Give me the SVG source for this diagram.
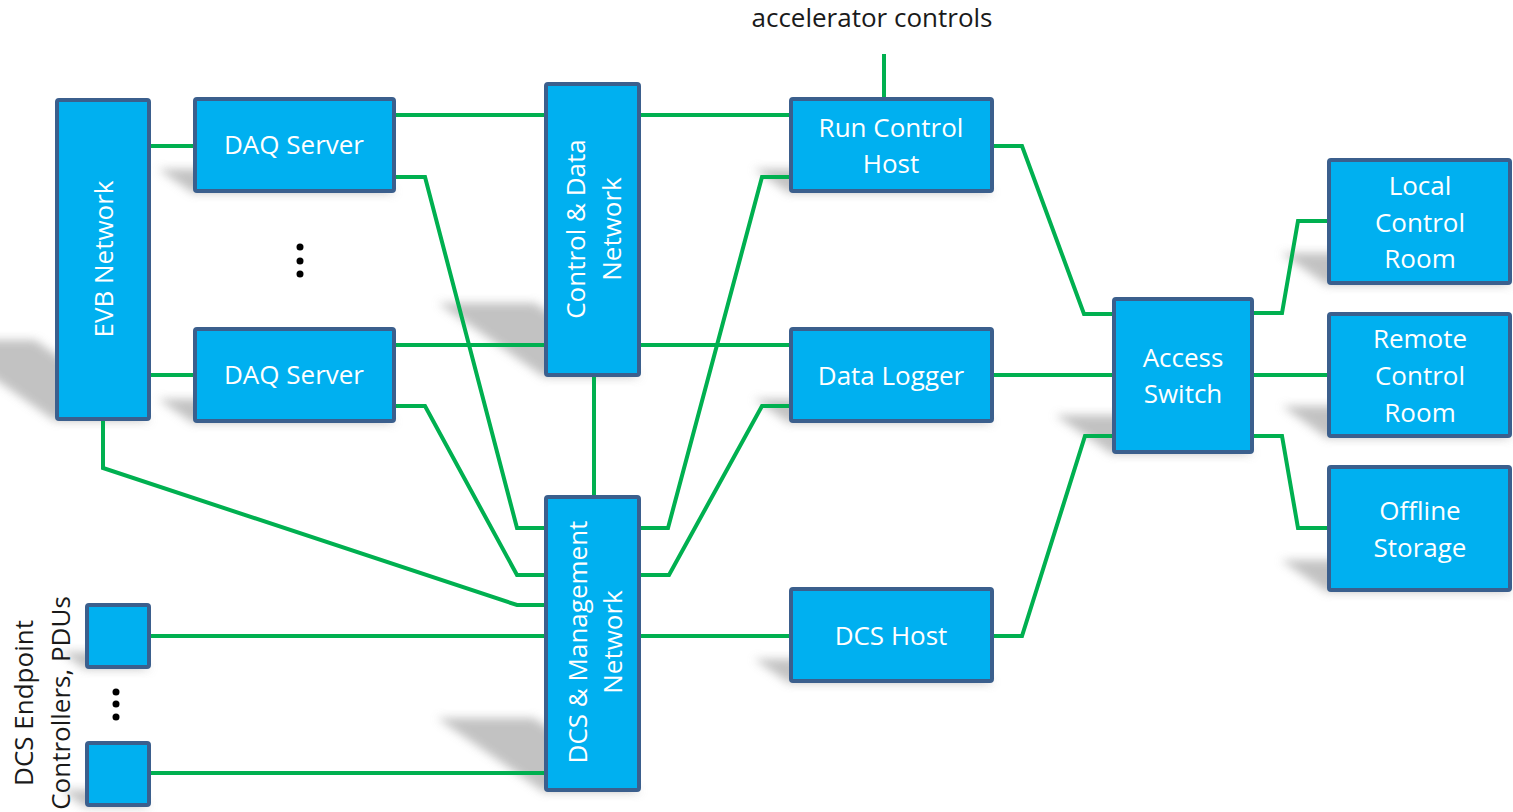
<svg xmlns="http://www.w3.org/2000/svg" width="1513" height="812" viewBox="0 0 1513 812">
<defs>
<filter id="blur" x="-50%" y="-50%" width="200%" height="200%"><feGaussianBlur stdDeviation="5"/></filter>
<style>
.box{fill:#00b0f0;stroke:#3b5f8d;stroke-width:4}
.lbl{font-family:"Open Sans","Liberation Sans",sans-serif;font-size:26px;fill:#ffffff;text-anchor:middle}
.ext{font-family:"Open Sans","Liberation Sans",sans-serif;font-size:26px;fill:#1a1a1a;text-anchor:middle}
.wire{fill:none;stroke:#00b050;stroke-width:4;stroke-linejoin:miter}
.shadow{fill:#b8b8b8;opacity:0.85;filter:url(#blur)}
.dot{fill:#000000}
</style>
</defs>
<rect width="1513" height="812" fill="#ffffff"/>
<g id="shadows">
<polygon class="shadow" points="55,421 151,421 35,340 -61,340"/>
<polygon class="shadow" points="193,193 396,193 361,169 158,169"/>
<polygon class="shadow" points="193,423 396,423 361,399 158,399"/>
<polygon class="shadow" points="544,377 641,377 535,303 438,303"/>
<polygon class="shadow" points="544,792 641,792 534,718 437,718"/>
<polygon class="shadow" points="789,193 994,193 959,169 754,169"/>
<polygon class="shadow" points="789,423 994,423 959,399 754,399"/>
<polygon class="shadow" points="789,683 994,683 959,659 754,659"/>
<polygon class="shadow" points="1112,454 1254,454 1197,415 1055,415"/>
<polygon class="shadow" points="1327,285 1513,285 1467,253 1281,253"/>
<polygon class="shadow" points="1327,438 1513,438 1468,406 1282,406"/>
<polygon class="shadow" points="1327,592 1513,592 1467,560 1281,560"/>
<polygon class="shadow" points="85,669 151,669 127,652 61,652"/>
<polygon class="shadow" points="85,807 151,807 127,790 61,790"/>
</g>
<g id="connectors">
<path class="wire" d="M150,146 H195"/>
<path class="wire" d="M150,375 H195"/>
<path class="wire" d="M394,115 H546"/>
<path class="wire" d="M394,177 H425 L517,528 H546"/>
<path class="wire" d="M394,345 H546"/>
<path class="wire" d="M394,406 H425 L517,575 H546"/>
<path class="wire" d="M103,421 V468 L517,605 H546"/>
<path class="wire" d="M594,377 V497"/>
<path class="wire" d="M639,115 H791"/>
<path class="wire" d="M639,345 H791"/>
<path class="wire" d="M639,528 H668 L762,177 H791"/>
<path class="wire" d="M639,575 H669 L762,406 H791"/>
<path class="wire" d="M149,636 H546"/>
<path class="wire" d="M149,773 H546"/>
<path class="wire" d="M639,636 H791"/>
<path class="wire" d="M884,54 V99"/>
<path class="wire" d="M992,146 H1022 L1084,314 H1114"/>
<path class="wire" d="M992,375 H1114"/>
<path class="wire" d="M992,636 H1022 L1085,436 H1114"/>
<path class="wire" d="M1252,313 H1282 L1298,221 H1329"/>
<path class="wire" d="M1252,375 H1329"/>
<path class="wire" d="M1252,436 H1282 L1298,528 H1329"/>
</g>
<g id="evb"><rect class="box" x="57" y="100" width="92" height="319" rx="2"/>
<text class="lbl" transform="translate(113,259) rotate(-90)">EVB Network</text></g>
<g id="daq1"><rect class="box" x="195" y="99" width="199" height="92" rx="2"/>
<text class="lbl" x="294" y="154">DAQ Server</text></g>
<g id="daq2"><rect class="box" x="195" y="329" width="199" height="92" rx="2"/>
<text class="lbl" x="294" y="384">DAQ Server</text></g>
<g id="daq-dots"><circle class="dot" cx="300" cy="247" r="3.5"/><circle class="dot" cx="300" cy="261" r="3.5"/><circle class="dot" cx="300" cy="274" r="3.5"/></g>
<g id="cdn"><rect class="box" x="546" y="84" width="93" height="291" rx="2"/>
<text class="lbl" transform="translate(585,229) rotate(-90)">Control &amp; Data</text>
<text class="lbl" transform="translate(621,229) rotate(-90)">Network</text></g>
<g id="dcsm"><rect class="box" x="546" y="497" width="93" height="293" rx="2"/>
<text class="lbl" transform="translate(587,642) rotate(-90)">DCS &amp; Management</text>
<text class="lbl" transform="translate(622,642) rotate(-90)">Network</text></g>
<g id="rch"><rect class="box" x="791" y="99" width="201" height="92" rx="2"/>
<text class="lbl" x="891" y="137">Run Control</text>
<text class="lbl" x="891" y="173">Host</text></g>
<g id="dl"><rect class="box" x="791" y="329" width="201" height="92" rx="2"/>
<text class="lbl" x="891" y="385">Data Logger</text></g>
<g id="dcsh"><rect class="box" x="791" y="589" width="201" height="92" rx="2"/>
<text class="lbl" x="891" y="645">DCS Host</text></g>
<g id="access"><rect class="box" x="1114" y="299" width="138" height="153" rx="2"/>
<text class="lbl" x="1183" y="367">Access</text>
<text class="lbl" x="1183" y="403">Switch</text></g>
<g id="lcr"><rect class="box" x="1329" y="160" width="181" height="123" rx="2"/>
<text class="lbl" x="1420" y="195">Local</text>
<text class="lbl" x="1420" y="232">Control</text>
<text class="lbl" x="1420" y="268">Room</text></g>
<g id="rcr"><rect class="box" x="1329" y="314" width="181" height="122" rx="2"/>
<text class="lbl" x="1420" y="348">Remote</text>
<text class="lbl" x="1420" y="385">Control</text>
<text class="lbl" x="1420" y="422">Room</text></g>
<g id="os"><rect class="box" x="1329" y="467" width="181" height="123" rx="2"/>
<text class="lbl" x="1420" y="520">Offline</text>
<text class="lbl" x="1420" y="557">Storage</text></g>
<g id="ep1"><rect class="box" x="87" y="605" width="62" height="62" rx="2"/></g>
<g id="ep2"><rect class="box" x="87" y="743" width="62" height="62" rx="2"/></g>
<g id="ep-dots"><circle class="dot" cx="116" cy="692" r="3.5"/><circle class="dot" cx="116" cy="704" r="3.5"/><circle class="dot" cx="116" cy="717" r="3.5"/></g>
<g id="ep-label"><text class="ext" transform="translate(33,703) rotate(-90)">DCS Endpoint</text>
<text class="ext" transform="translate(70,703) rotate(-90)">Controllers, PDUs</text></g>
<g id="acc-label"><text class="ext" x="872" y="27">accelerator controls</text></g>
</svg>
